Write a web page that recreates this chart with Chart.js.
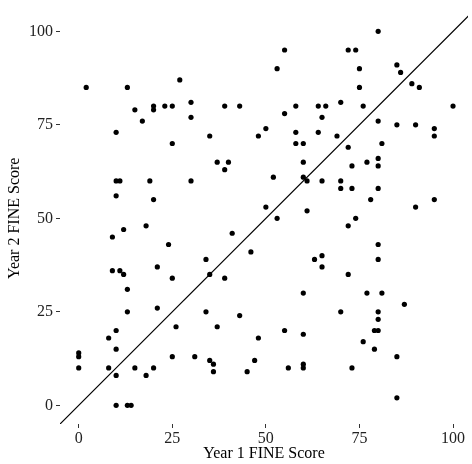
<!DOCTYPE html>
<html>
<head>
<meta charset="utf-8">
<script src="https://cdn.jsdelivr.net/npm/chart.js@4"></script>
<style>
  body { margin: 0; background: #fff; }
</style>
</head>
<body>
<canvas id="myChart" width="472" height="464"></canvas>
<script>
// Year 1 / Year 2 FINE scores
var year1 = [2, 13, 15, 17, 20, 20, 10, 55, 53, 27, 23, 25, 30, 30, 39, 43, 58, 55, 25, 35,
  50, 48, 58, 58, 60, 37, 40, 60, 80, 72, 74, 75, 85, 86, 89, 91, 75, 64, 66, 70,
  76, 100, 65, 80, 85, 90, 95, 95, 64, 69, 72, 81, 77, 80, 10, 11, 19, 10, 20, 12,
  9, 18, 9, 11, 12, 21, 13, 13, 21, 39, 30, 52, 60, 61, 50, 53, 61, 41, 24, 46,
  34, 25, 35, 39, 60, 34, 73, 80, 65, 70, 70, 73, 80, 78, 90, 95, 74, 72, 80, 80,
  63, 65, 65, 72, 77, 81, 87, 70, 80, 10, 8, 10, 0, 0, 0, 8, 10, 15, 18, 20,
  10, 13, 14, 43, 26, 37, 48, 55, 60, 25, 31, 35, 36, 36, 45, 47, 56, 60, 60, 80,
  79, 80, 76, 79, 85, 73, 85];
var year2 = [85, 85, 79, 76, 80, 79, 73, 95, 90, 87, 80, 80, 81, 77, 80, 80, 80, 78, 70, 72,
  74, 72, 73, 70, 70, 65, 65, 65, 100, 95, 95, 90, 91, 89, 86, 85, 85, 80, 80, 81,
  80, 80, 77, 76, 75, 75, 74, 72, 73, 72, 69, 70, 65, 66, 60, 60, 60, 56, 55, 47,
  45, 48, 36, 36, 35, 37, 31, 25, 26, 63, 60, 61, 61, 60, 53, 50, 52, 46, 43, 41,
  39, 34, 35, 34, 30, 25, 64, 64, 60, 60, 58, 58, 58, 55, 53, 55, 50, 48, 43, 39,
  39, 40, 37, 35, 30, 30, 27, 25, 25, 20, 18, 15, 14, 13, 10, 10, 8, 10, 8, 10,
  0, 0, 0, 24, 21, 21, 18, 20, 19, 13, 13, 12, 11, 9, 9, 12, 10, 11, 10, 23,
  20, 20, 17, 15, 13, 10, 2];
var xTicks = [0, 25, 50, 75, 100];
var yTicks = [0, 25, 50, 75, 100];
var diagonal = [-5, 105];

var points = year1.map(function (x, i) { return { x: x, y: year2[i] }; });
var lineData = diagonal.map(function (v) { return { x: v, y: v }; });

var serif = "'Liberation Serif', 'Times New Roman', serif";

var ctx = document.getElementById('myChart').getContext('2d');

var chart1 = new Chart(ctx, {
    type: 'scatter',
    data: {
        datasets: [{
            data: points,
            backgroundColor: '#000',
            borderWidth: 0,
            pointRadius: 2.6,
        }, {
            type: 'line',
            data: lineData,
            borderColor: '#000',
            borderWidth: 1.2,
            pointRadius: 0,
            fill: false,
        }]
    },
    options: {
        responsive: false,
        animation: false,
        layout: { padding: { top: 6, right: 0, left: 0, bottom: 0 } },
        plugins: {
            legend: { display: false },
            tooltip: { enabled: false }
        },
        scales: {
            x: {
                type: 'linear',
                min: -5,
                max: 104,
                afterBuildTicks: function (axis) {
                    axis.ticks = xTicks.map(function (v) { return { value: v }; });
                },
                afterFit: function (axis) { axis.height = 40; },
                border: { display: false },
                grid: { drawOnChartArea: false, drawTicks: true, tickLength: 4, color: '#333' },
                ticks: { padding: 1, color: '#222', font: { family: serif, size: 16 } },
                title: {
                    display: true,
                    text: 'Year 1 FINE Score',
                    color: '#000',
                    padding: { top: 0, bottom: 1 },
                    font: { family: serif, size: 16 }
                }
            },
            y: {
                type: 'linear',
                min: -5,
                max: 105,
                afterBuildTicks: function (axis) {
                    axis.ticks = yTicks.map(function (v) { return { value: v }; });
                },
                afterFit: function (axis) { axis.width = 60; },
                border: { display: false },
                grid: { drawOnChartArea: false, drawTicks: true, tickLength: 4, color: '#333' },
                ticks: { padding: 3, color: '#222', font: { family: serif, size: 16 } },
                title: {
                    display: true,
                    text: 'Year 2 FINE Score',
                    color: '#000',
                    padding: { top: 5, bottom: 0 },
                    font: { family: serif, size: 16 }
                }
            }
        }
    }
});
</script>
</body>
</html>
